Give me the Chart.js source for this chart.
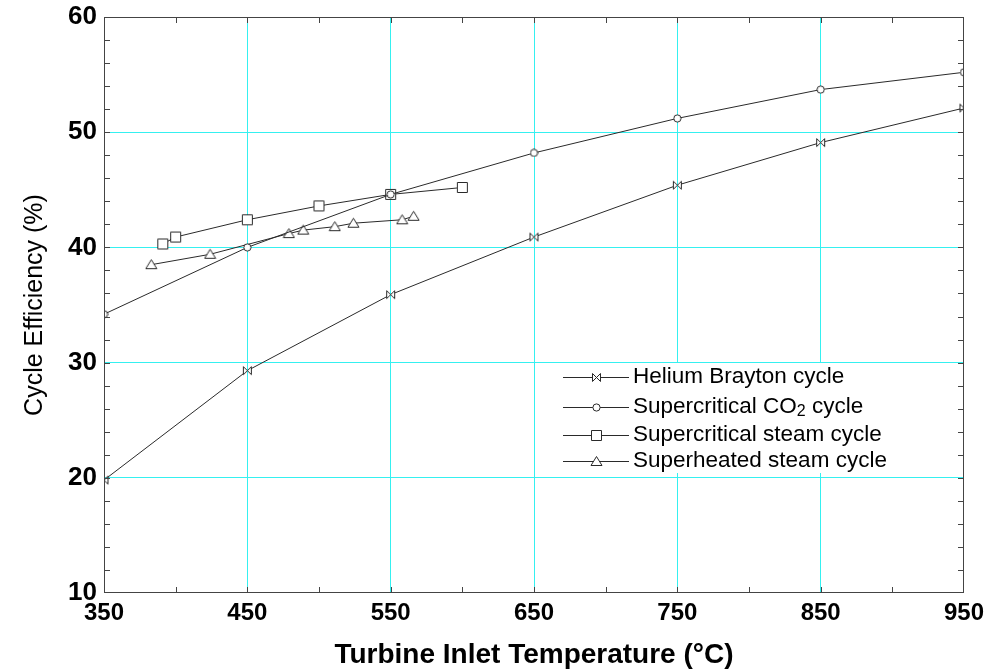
<!DOCTYPE html>
<html>
<head>
<meta charset="utf-8">
<script src="https://cdn.jsdelivr.net/npm/chart.js@4.4.1/dist/chart.umd.min.js"></script>
<style>
html,body{margin:0;padding:0;background:#fff;}
#wrap{width:985px;height:669px;}
</style>
</head>
<body>
<div id="wrap"><canvas id="c" width="985" height="669"></canvas></div>
<script>
// ---- data ----
const seriesLabels = ['Helium Brayton cycle', 'Supercritical CO\u2082 cycle', 'Supercritical steam cycle', 'Superheated steam cycle'];

const tempHelium = [350, 450, 550, 650, 750, 850, 950];
const effHelium  = [19.8, 29.3, 35.9, 40.9, 45.4, 49.1, 52.1];

const tempCO2 = [350, 450, 550, 650, 750, 850, 950];
const effCO2  = [34.2, 40.0, 44.6, 48.2, 51.2, 53.7, 55.2];

const tempSCSteam = [391, 400, 450, 500, 550, 600];
const effSCSteam  = [40.3, 40.9, 42.4, 43.6, 44.6, 45.2];

const tempSHSteam = [383, 424, 479, 489, 511, 524, 558, 566];
const effSHSteam  = [38.5, 39.4, 41.2, 41.5, 41.8, 42.1, 42.4, 42.7];

const xMin = 350, xMax = 950, xMinorStep = 50, xLabelStep = 100;
const yMin = 10, yMax = 60, yMinorStep = 2, yLabelStep = 10;

const xTitle = 'Turbine Inlet Temperature (\u00B0C)';
const yTitle = 'Cycle Efficiency (%)';

// ---- styling ----
const FONT = "'Liberation Sans', Arial, sans-serif";
const LINE = '#2a2a2a';
const GRID = '#35f0f0';
const FRAME = '#444';

function makeMarker(kind) {
  const s = kind === 'circle' ? 9 : (kind === 'bowtie' ? 11 : 13);
  const c = document.createElement('canvas');
  c.width = s; c.height = s;
  const g = c.getContext('2d');
  g.strokeStyle = LINE; g.fillStyle = '#fff'; g.lineWidth = 1;
  const m = s / 2;
  g.beginPath();
  if (kind === 'circle') {
    g.arc(m, m, 3.6, 0, Math.PI * 2);
  } else if (kind === 'square') {
    g.rect(1.5, 1.5, s - 3, s - 3);
  } else if (kind === 'triangle') {
    g.moveTo(m, 1.5); g.lineTo(s - 1, s - 2.5); g.lineTo(1, s - 2.5); g.closePath();
  } else if (kind === 'bowtie') {
    g.moveTo(1.5, 1.5); g.lineTo(m, m); g.lineTo(1.5, s - 1.5); g.closePath();
    g.moveTo(s - 1.5, 1.5); g.lineTo(m, m); g.lineTo(s - 1.5, s - 1.5); g.closePath();
  }
  g.fill(); g.stroke();
  return c;
}
const markers = [makeMarker('bowtie'), makeMarker('circle'), makeMarker('square'), makeMarker('triangle')];

function pts(xs, ys) { return xs.map((v, i) => ({x: v, y: ys[i]})); }
const allX = [tempHelium, tempCO2, tempSCSteam, tempSHSteam];
const allY = [effHelium, effCO2, effSCSteam, effSHSteam];

const datasets = seriesLabels.map((lab, i) => ({
  label: lab,
  data: pts(allX[i], allY[i]),
  borderColor: LINE,
  borderWidth: 1,
  backgroundColor: '#fff',
  pointStyle: markers[i],
  pointRadius: 5,
  pointHoverRadius: 5,
  showLine: true,
  tension: 0,
  clip: 0
}));

// frame + inward ticks
const framePlugin = {
  id: 'frame',
  afterDatasetsDraw(chart) {
    const {ctx, chartArea: a, scales: {x, y}} = chart;
    ctx.save();
    ctx.strokeStyle = FRAME; ctx.lineWidth = 1;
    ctx.beginPath();
    x.ticks.forEach(t => {
      if (t.value <= x.min || t.value >= x.max) return;
      const px = Math.round(x.getPixelForValue(t.value)) + 0.5;
      ctx.moveTo(px, a.bottom); ctx.lineTo(px, a.bottom - 6);
      ctx.moveTo(px, a.top); ctx.lineTo(px, a.top + 6);
    });
    y.ticks.forEach(t => {
      if (t.value <= y.min || t.value >= y.max) return;
      const py = Math.round(y.getPixelForValue(t.value)) + 0.5;
      ctx.moveTo(a.left, py); ctx.lineTo(a.left + 6, py);
      ctx.moveTo(a.right, py); ctx.lineTo(a.right - 6, py);
    });
    ctx.stroke();
    ctx.strokeRect(Math.round(a.left) + 0.5, Math.round(a.top) + 0.5,
                   Math.round(a.right) - Math.round(a.left) - 1, Math.round(a.bottom) - Math.round(a.top) - 1);
    ctx.restore();
  }
};

// legend drawn inside the plot
const legendPlugin = {
  id: 'inlegend',
  afterDraw(chart) {
    const ctx = chart.ctx;
    const box = {x: 564, y: 363, w: 288, h: 110};
    const rows = [377, 407, 435, 461];
    const lineX0 = 563, lineX1 = 629, textX = 633;
    ctx.save();
    ctx.fillStyle = '#fff';
    ctx.fillRect(box.x, box.y, box.w, box.h);
    chart.data.datasets.forEach((ds, i) => {
      const yy = rows[i];
      ctx.strokeStyle = LINE; ctx.lineWidth = 1;
      ctx.beginPath();
      ctx.moveTo(lineX0, yy + 0.5); ctx.lineTo(lineX1, yy + 0.5);
      ctx.stroke();
      const mk = ds.pointStyle;
      ctx.drawImage(mk, Math.round((lineX0 + lineX1) / 2 - mk.width / 2), Math.round(yy - mk.height / 2));
      ctx.fillStyle = '#000';
      ctx.textBaseline = 'middle';
      ctx.textAlign = 'left';
      const label = ds.label;
      const k = label.indexOf('\u2082');
      ctx.font = '22.5px ' + FONT;
      if (k < 0) {
        ctx.fillText(label, textX, yy);
      } else {
        const a = label.slice(0, k), b = label.slice(k + 1);
        ctx.fillText(a, textX, yy);
        let xx = textX + ctx.measureText(a).width;
        ctx.font = '16px ' + FONT;
        ctx.fillText('2', xx, yy + 5);
        xx += ctx.measureText('2').width;
        ctx.font = '22.5px ' + FONT;
        ctx.fillText(b, xx, yy);
      }
    });
    ctx.restore();
  }
};

new Chart(document.getElementById('c'), {
  type: 'scatter',
  data: {datasets},
  options: {
    responsive: false,
    animation: false,
    devicePixelRatio: 1,
    layout: {padding: {top: 17, right: 21, bottom: 0, left: 0}},
    plugins: {legend: {display: false}, tooltip: {enabled: false}},
    scales: {
      x: {
        type: 'linear', min: xMin, max: xMax,
        afterFit(s) { s.height = 76; s.paddingLeft = 0; s.paddingRight = 0; },
        ticks: {
          stepSize: xMinorStep, autoSkip: false, maxRotation: 0, padding: 6,
          color: '#000', font: {family: FONT, size: 24, weight: 'bold'},
          callback: v => ((v - xMin) % xLabelStep === 0 ? String(v) : '')
        },
        grid: {
          drawTicks: false, lineWidth: 1,
          color: c => (c.tick && (c.tick.value - xMin) % xLabelStep === 0 && c.tick.value > xMin && c.tick.value < xMax) ? GRID : 'rgba(0,0,0,0)'
        },
        border: {display: false},
        title: {display: true, text: xTitle, color: '#000', font: {family: FONT, size: 28, weight: 'bold'}, padding: {top: 0, bottom: -3}}
      },
      y: {
        type: 'linear', min: yMin, max: yMax,
        afterFit(s) { s.width = 104; s.paddingTop = 0; s.paddingBottom = 0; },
        ticks: {
          stepSize: yMinorStep, autoSkip: false, padding: 7,
          color: '#000', font: {family: FONT, size: 26, weight: 'bold'},
          callback: v => (v % yLabelStep === 0 ? String(v) : '')
        },
        grid: {
          drawTicks: false, lineWidth: 1,
          color: c => (c.tick && c.tick.value % yLabelStep === 0 && c.tick.value > yMin && c.tick.value < yMax) ? GRID : 'rgba(0,0,0,0)'
        },
        border: {display: false},
        title: {display: true, text: yTitle, color: '#000', font: {family: FONT, size: 25}, padding: {top: 20, bottom: 0}}
      }
    }
  },
  plugins: [framePlugin, legendPlugin]
});
</script>
</body>
</html>
